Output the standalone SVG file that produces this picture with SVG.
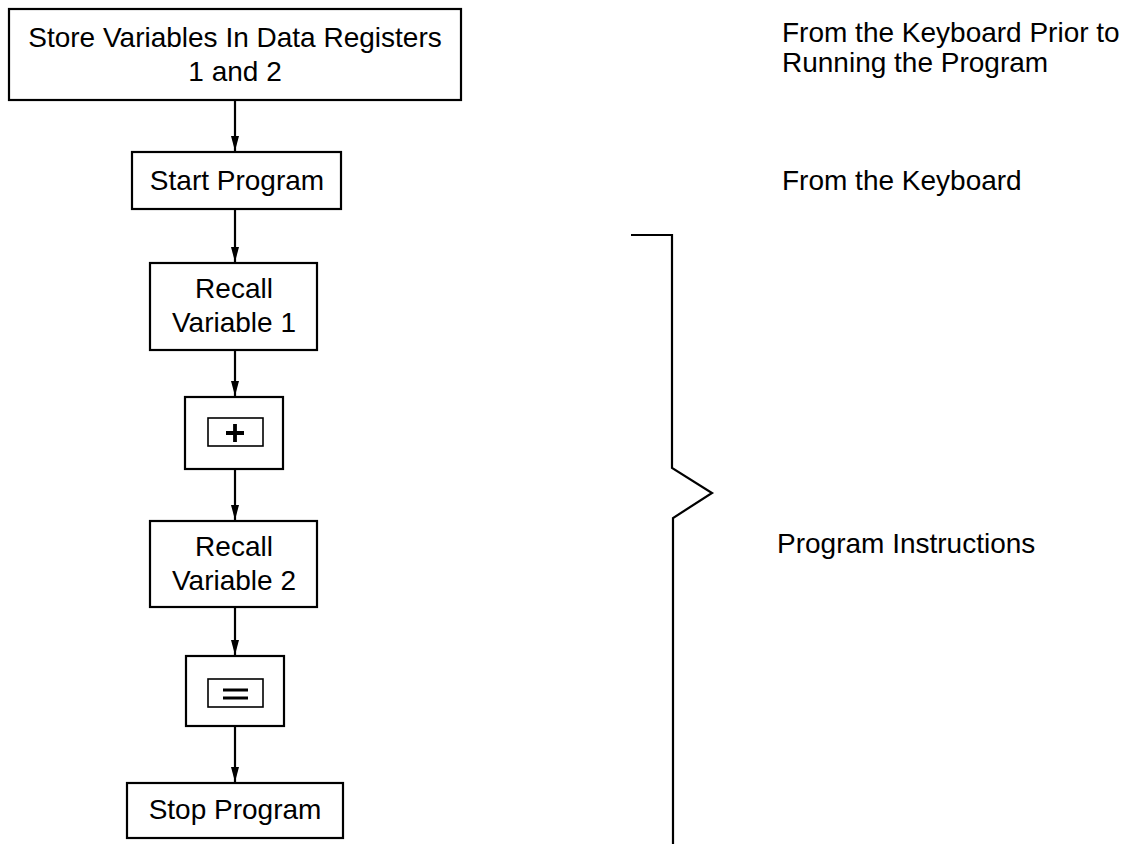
<svg xmlns="http://www.w3.org/2000/svg" width="1128" height="844" viewBox="0 0 1128 844">
<style>
.box{fill:#fff;stroke:#000;stroke-width:2.2}
.key{fill:#fff;stroke:#000;stroke-width:1.6}
.t{font-family:"Liberation Sans",Arial,Helvetica,sans-serif;font-size:28px;fill:#000}
.c{text-anchor:middle}
.ln{fill:none;stroke:#000;stroke-width:2.2}
</style>
<defs>
<marker id="ah" markerWidth="16" markerHeight="10" refX="15" refY="5" orient="auto" markerUnits="userSpaceOnUse" viewBox="0 0 16 10">
<path d="M0,1 L15,5 L0,9 Z" fill="#000"/>
</marker>
</defs>
<rect width="1128" height="844" fill="#fff"/>
<g id="connectors">
<line class="ln" x1="235" y1="100" x2="235" y2="151" marker-end="url(#ah)"/>
<line class="ln" x1="235" y1="209" x2="235" y2="262" marker-end="url(#ah)"/>
<line class="ln" x1="235" y1="350" x2="235" y2="396" marker-end="url(#ah)"/>
<line class="ln" x1="235" y1="469" x2="235" y2="520" marker-end="url(#ah)"/>
<line class="ln" x1="235" y1="607" x2="235" y2="655" marker-end="url(#ah)"/>
<line class="ln" x1="235" y1="726" x2="235" y2="782" marker-end="url(#ah)"/>
</g>
<g id="n1">
<rect class="box" x="9" y="9" width="452" height="91"/>
<text class="t c" x="235" y="47">Store Variables In Data Registers</text>
<text class="t c" x="235" y="81">1 and 2</text>
</g>
<g id="n2">
<rect class="box" x="132" y="152" width="209" height="57"/>
<text class="t c" x="237" y="190">Start Program</text>
</g>
<g id="n3">
<rect class="box" x="150" y="263" width="167" height="87"/>
<text class="t c" x="234" y="298">Recall</text>
<text class="t c" x="234" y="332">Variable 1</text>
</g>
<g id="n4">
<rect class="box" x="185" y="397" width="98" height="72"/>
<rect class="key" x="208" y="418" width="55" height="28"/>
<path d="M235,424 V442 M226,433 H244" stroke="#000" stroke-width="3.8" fill="none"/>
</g>
<g id="n5">
<rect class="box" x="150" y="521" width="167" height="86"/>
<text class="t c" x="234" y="556">Recall</text>
<text class="t c" x="234" y="590">Variable 2</text>
</g>
<g id="n6">
<rect class="box" x="186" y="656" width="98" height="70"/>
<rect class="key" x="208" y="679" width="55" height="28"/>
<path d="M223,690 H248 M223,698 H248" stroke="#000" stroke-width="3" fill="none"/>
</g>
<g id="n7">
<rect class="box" x="127" y="783" width="216" height="55"/>
<text class="t c" x="235" y="819">Stop Program</text>
</g>
<g id="brace">
<polyline class="ln" points="631,235 672,235 672,468 712,493 673,518 673,844"/>
</g>
<g id="labels">
<text class="t" x="782" y="42">From the Keyboard Prior to</text>
<text class="t" x="782" y="72">Running the Program</text>
<text class="t" x="782" y="190">From the Keyboard</text>
<text class="t" x="777" y="553">Program Instructions</text>
</g>
</svg>
